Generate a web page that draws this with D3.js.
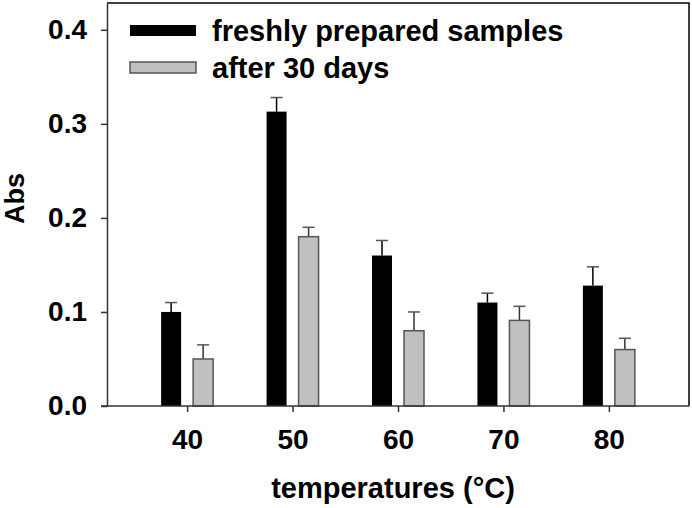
<!DOCTYPE html>
<html>
<head>
<meta charset="utf-8">
<script src="https://cdn.jsdelivr.net/npm/d3@7"></script>
<style>
  body { margin: 0; background: #fff; }
  svg text { font-family: "Liberation Sans", Arial, sans-serif; font-weight: bold; fill: #000; }
</style>
</head>
<body>
<div id="chart"></div>
<script>
// temperatures on the x axis
const temps = ["40", "50", "60", "70", "80"];
const seriesNames = ["freshly prepared samples", "after 30 days"];

// absorbance values
const freshVals = [0.100, 0.313, 0.160, 0.110, 0.128];
const freshErr  = [0.010, 0.015, 0.016, 0.010, 0.020];
const agedVals  = [0.050, 0.180, 0.080, 0.091, 0.060];
const agedErr   = [0.015, 0.010, 0.020, 0.015, 0.012];

const yTicks = [0.0, 0.1, 0.2, 0.3, 0.4];

const width = 692, height = 508;
const margin = { top: 3, right: 3, bottom: 102, left: 107 };

const svg = d3.select('#chart').append('svg')
  .attr('width', width)
  .attr('height', height);

const x0 = d3.scalePoint()
  .domain(temps)
  .range([margin.left, width - margin.right])
  .padding(0.76);

const x1 = d3.scaleBand()
  .domain(seriesNames)
  .range([-26, 26])
  .paddingInner(0.375);

const y = d3.scaleLinear()
  .domain([0, 0.4285])
  .range([height - margin.bottom, margin.top]);

const fills = ["#000000", "#c0c0c0"];
const strokes = ["#000000", "#555555"];

// flatten into one record per bar
const bars = temps.flatMap((t, i) => [
  { t, s: seriesNames[0], v: freshVals[i], e: freshErr[i], k: 0 },
  { t, s: seriesNames[1], v: agedVals[i], e: agedErr[i], k: 1 },
]);

// frame (top + right)
svg.append('path')
  .attr('d', `M${margin.left},${margin.top}H${width - margin.right}V${height - margin.bottom}`)
  .attr('fill', 'none')
  .attr('stroke', '#000')
  .attr('stroke-width', 1.5);

// error bars (behind bars)
const eb = svg.append('g').selectAll('g')
  .data(bars)
  .enter()
  .append('g')
  .attr('stroke', d => d.k === 0 ? '#000' : '#333')
  .attr('stroke-width', 1.5);

eb.append('line')
  .attr('x1', d => x0(d.t) + x1(d.s) + x1.bandwidth() / 2)
  .attr('x2', d => x0(d.t) + x1(d.s) + x1.bandwidth() / 2)
  .attr('y1', d => y(d.v))
  .attr('y2', d => y(d.v + d.e));

eb.append('line')
  .attr('stroke', '#555')
  .attr('x1', d => x0(d.t) + x1(d.s) + x1.bandwidth() / 2 - 6)
  .attr('x2', d => x0(d.t) + x1(d.s) + x1.bandwidth() / 2 + 6)
  .attr('y1', d => y(d.v + d.e))
  .attr('y2', d => y(d.v + d.e));

// bars
svg.append('g').selectAll('rect')
  .data(bars)
  .enter()
  .append('rect')
  .attr('x', d => x0(d.t) + x1(d.s))
  .attr('y', d => y(d.v))
  .attr('width', x1.bandwidth())
  .attr('height', d => y(0) - y(d.v))
  .attr('fill', d => fills[d.k])
  .attr('stroke', d => strokes[d.k])
  .attr('stroke-width', d => d.k === 0 ? 0 : 1.5);

// axes
const xAxis = svg.append('g')
  .attr('transform', `translate(0,${y(0)})`)
  .call(d3.axisBottom(x0).tickSize(6).tickPadding(12).tickSizeOuter(0));
xAxis.select('.domain').attr('stroke', '#333').attr('stroke-width', 1.5)
  .attr('d', `M${margin.left - 6},0H${width - margin.right}`);
xAxis.selectAll('.tick line').attr('stroke', '#333').attr('stroke-width', 1.5);
xAxis.selectAll('text').style('font-size', '28px').attr('dy', '0.9em');

const yAxis = svg.append('g')
  .attr('transform', `translate(${margin.left},0)`)
  .call(d3.axisLeft(y).tickValues(yTicks).tickFormat(d3.format('.1f')).tickSize(6).tickPadding(14).tickSizeOuter(0));
yAxis.select('.domain').attr('stroke', '#333').attr('stroke-width', 1.5);
yAxis.selectAll('.tick line').attr('stroke', '#333').attr('stroke-width', 1.5);
yAxis.selectAll('text').style('font-size', '28px');

// axis titles
svg.append('text')
  .attr('x', (margin.left + width - margin.right) / 2 - 5)
  .attr('y', 498)
  .attr('text-anchor', 'middle')
  .style('font-size', '29px')
  .text('temperatures (°C)');

svg.append('text')
  .attr('transform', `translate(24,${(margin.top + y(0)) / 2 - 6}) rotate(-90)`)
  .attr('text-anchor', 'middle')
  .style('font-size', '27px')
  .text('Abs');

// legend
const legend = svg.append('g')
  .selectAll('g')
  .data(seriesNames)
  .enter()
  .append('g')
  .attr('transform', (d, i) => `translate(130,${25 + i * 37})`);

legend.append('rect')
  .attr('width', 66)
  .attr('height', 11)
  .attr('fill', (d, i) => fills[i])
  .attr('stroke', (d, i) => strokes[i])
  .attr('stroke-width', (d, i) => i === 0 ? 0 : 1.5);

legend.append('text')
  .attr('x', 82)
  .attr('y', 16)
  .style('font-size', '29px')
  .text(d => d);
</script>
</body>
</html>
